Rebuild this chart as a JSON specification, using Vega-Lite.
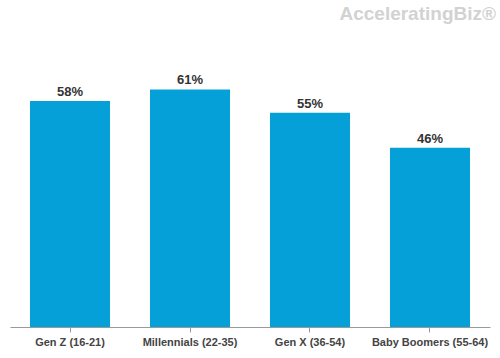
{
  "$schema": "https://vega.github.io/schema/vega-lite/v6.json",
  "width": 480,
  "height": 296,
  "autosize": "none",
  "padding": {"left": 10, "right": 10, "top": 31, "bottom": 31},
  "background": "white",
  "title": {"text": "AcceleratingBiz®", "anchor": "end", "color": "#d2d2d2", "fontSize": 19, "font": "Liberation Sans", "fontWeight": "bold", "offset": 7, "dx": 6},
  "config": {"view": {"stroke": null}, "font": "Liberation Sans"},
  "data": {"values": [
    {"group": "Gen Z (16-21)", "pct": 58, "label": "58%"},
    {"group": "Millennials (22-35)", "pct": 61, "label": "61%"},
    {"group": "Gen X (36-54)", "pct": 55, "label": "55%"},
    {"group": "Baby Boomers (55-64)", "pct": 46, "label": "46%"}
  ]},
  "encoding": {
    "x": {"field": "group", "type": "nominal", "sort": null,
      "scale": {"paddingInner": 0.3333, "paddingOuter": 0.1667},
      "axis": {"title": null, "labelAngle": 0, "labelFont": "Liberation Sans", "labelFontWeight": "bold", "labelFontSize": 11, "labelColor": "#444", "domainColor": "#999", "tickColor": "#999", "tickSize": 5, "labelPadding": 4}},
    "y": {"field": "pct", "type": "quantitative", "scale": {"domain": [0, 76]}, "axis": null}
  },
  "layer": [
    {"mark": {"type": "bar", "color": "#05a0d7"}},
    {"mark": {"type": "text", "dy": -9, "fontSize": 13, "fontWeight": "bold", "color": "#333", "font": "Liberation Sans"},
     "encoding": {"text": {"field": "label", "type": "nominal"}}}
  ]
}
